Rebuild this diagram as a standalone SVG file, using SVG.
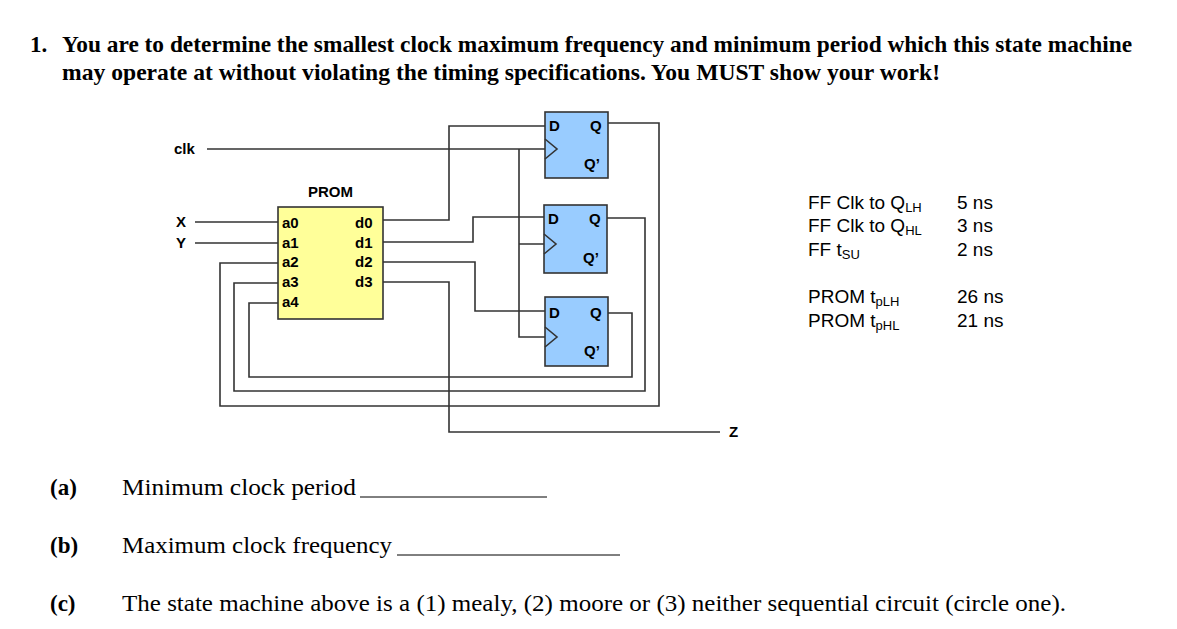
<svg xmlns="http://www.w3.org/2000/svg" width="1177" height="629" viewBox="0 0 1177 629">
<style>
.t{font-family:"Liberation Serif",serif;font-size:23px;fill:#000}
.b{font-weight:bold}
.s{font-family:"Liberation Sans",Arial,sans-serif;font-size:15px;font-weight:bold;fill:#000}
.r{font-family:"Liberation Sans",Arial,sans-serif;font-size:19px;fill:#000}
.w{fill:none;stroke:#333;stroke-width:1.6}
.ff{fill:#99ccff;stroke:#333;stroke-width:1.6}
</style>
<rect width="1177" height="629" fill="#fff"/>
<text class="t b" x="30" y="52">1.</text>
<text class="t b" x="62" y="52" textLength="1070" lengthAdjust="spacingAndGlyphs">You are to determine the smallest clock maximum frequency and minimum period which this state machine</text>
<text class="t b" x="62" y="80" textLength="878" lengthAdjust="spacingAndGlyphs">may operate at without violating the timing specifications. You MUST show your work!</text>
<g id="connectors" class="w">
<path d="M207 149H545 M519 149V337H545 M519 244H544"/>
<path d="M195 222H278 M195 243H278"/>
<path d="M383 220H449V126H545"/>
<path d="M383 242H473V217H544"/>
<path d="M383 262H475V311H545"/>
<path d="M383 282H449V432H720"/>
<path d="M608 123H659V406H220V263H278"/>
<path d="M607 218H645V391H234V283H278"/>
<path d="M608 313H632V377H249V303H278"/>
</g>
<g id="prom">
<rect x="278" y="207" width="105" height="112" fill="#ffff99" stroke="#333" stroke-width="1.6"/>
<text class="s" x="308" y="197">PROM</text>
<text class="s" x="282" y="228">a0</text><text class="s" x="282" y="248">a1</text><text class="s" x="282" y="267">a2</text><text class="s" x="282" y="287">a3</text><text class="s" x="282" y="307">a4</text>
<text class="s" x="355" y="228">d0</text><text class="s" x="355" y="248">d1</text><text class="s" x="355" y="267">d2</text><text class="s" x="355" y="287">d3</text>
</g>
<g id="ff1"><rect class="ff" x="545" y="112" width="63" height="66"/><path class="w" d="M545 139L557 149L545 159"/>
<text class="s" x="549" y="131">D</text><text class="s" x="590" y="131">Q</text><text class="s" x="584" y="169">Q’</text></g>
<g id="ff2"><rect class="ff" x="544" y="205" width="63" height="68"/><path class="w" d="M544 234L556 244L544 254"/>
<text class="s" x="548" y="224">D</text><text class="s" x="589" y="224">Q</text><text class="s" x="583" y="263">Q’</text></g>
<g id="ff3"><rect class="ff" x="545" y="297" width="63" height="69"/><path class="w" d="M545 327L557 337L545 347"/>
<text class="s" x="549" y="318">D</text><text class="s" x="590" y="318">Q</text><text class="s" x="584" y="356">Q’</text></g>
<text class="s" x="174" y="154">clk</text>
<text class="s" x="176" y="227">X</text>
<text class="s" x="176" y="248">Y</text>
<text class="s" x="729" y="437">Z</text>
<g class="r">
<text x="808" y="209">FF Clk to Q<tspan font-size="13" dy="3">LH</tspan></text>
<text x="808" y="232">FF Clk to Q<tspan font-size="13" dy="3">HL</tspan></text>
<text x="808" y="256">FF t<tspan font-size="13" dy="3">SU</tspan></text>
<text x="957" y="209">5 ns</text><text x="957" y="232">3 ns</text><text x="957" y="256">2 ns</text>
<text x="808" y="303">PROM t<tspan font-size="13" dy="3">pLH</tspan></text>
<text x="808" y="327">PROM t<tspan font-size="13" dy="3">pHL</tspan></text>
<text x="957" y="303">26 ns</text><text x="957" y="327">21 ns</text>
</g>
<text class="t b" x="50" y="495">(a)</text><text class="t" x="122" y="495" textLength="234" lengthAdjust="spacingAndGlyphs">Minimum  clock period</text>
<text class="t b" x="50" y="553">(b)</text><text class="t" x="122" y="553" textLength="270" lengthAdjust="spacingAndGlyphs">Maximum clock frequency</text>
<text class="t b" x="50" y="611">(c)</text><text class="t" x="122" y="611" textLength="944" lengthAdjust="spacingAndGlyphs">The state machine above is a (1) mealy, (2) moore or (3) neither  sequential circuit (circle one).</text>
<path d="M360 497H547 M397 555H620" stroke="#000" stroke-width="1"/>
</svg>
